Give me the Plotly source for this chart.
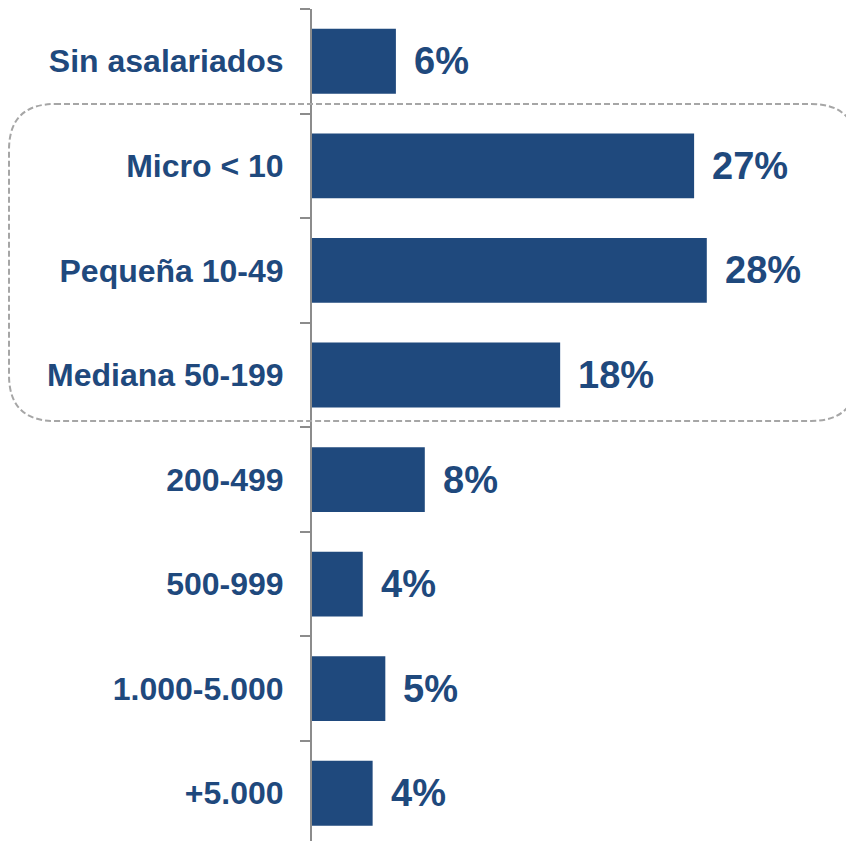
import plotly.graph_objects as go

categories = ["Sin asalariados", "Micro < 10", "Pequeña 10-49", "Mediana 50-199",
              "200-499", "500-999", "1.000-5.000", "+5.000"]
values = [5.95, 27.1, 28.0, 17.6, 8.0, 3.6, 5.2, 4.3]
value_labels = ["6%", "27%", "28%", "18%", "8%", "4%", "5%", "4%"]

BLUE = "#1F497D"
GRAY = "#8C8C8C"
OFF = 8  # page body margin
W, H = 854, 841 - OFF
ML, MR, MT, MB = 312 - OFF, 8, 9 - OFF, 0
PX_PER_PCT = 14.1

fig = go.Figure()
fig.add_trace(go.Bar(
    y=categories, x=values, orientation="h",
    marker=dict(color=BLUE, line=dict(width=0)),
    hoverinfo="skip",
))

for i, (v, t) in enumerate(zip(values, value_labels)):
    fig.add_annotation(x=v, y=i, text=t, showarrow=False, xanchor="left",
                       xshift=16, font=dict(family="Liberation Sans", size=38,
                                            color=BLUE, weight="bold"))

# dashed rounded box (screenshot pixel coords -> paper coords)
pw, ph = W - ML - MR, H - MT - MB
def px(x):
    return (x - OFF - ML) / pw
def py(y):
    return 1 - (y - OFF - MT) / ph

x0, x1, y0, y1, r = 9, 857, 104, 421, 46
path = (
    f"M {px(x0 + r)} {py(y0)} L {px(x1 - r)} {py(y0)} "
    f"Q {px(x1)} {py(y0)} {px(x1)} {py(y0 + r)} "
    f"L {px(x1)} {py(y1 - r)} "
    f"Q {px(x1)} {py(y1)} {px(x1 - r)} {py(y1)} "
    f"L {px(x0 + r)} {py(y1)} "
    f"Q {px(x0)} {py(y1)} {px(x0)} {py(y1 - r)} "
    f"L {px(x0)} {py(y0 + r)} "
    f"Q {px(x0)} {py(y0)} {px(x0 + r)} {py(y0)} Z"
)
fig.add_shape(type="path", path=path, xref="paper", yref="paper",
              line=dict(color="#A6A6A6", width=2, dash="6px,3px"), layer="above")

n_vis = ph / 104.57
fig.update_layout(
    width=W, height=H,
    margin=dict(l=ML, r=MR, t=MT, b=MB),
    plot_bgcolor="white", paper_bgcolor="white",
    bargap=0.38, showlegend=False,
    xaxis=dict(range=[0, pw / PX_PER_PCT], visible=False, fixedrange=True),
    yaxis=dict(
        type="category", categoryorder="array", categoryarray=categories,
        range=[n_vis - 0.5, -0.5],
        showline=True, linecolor=GRAY, linewidth=2,
        ticks="outside", tickson="boundaries", ticklen=10, tickwidth=2, tickcolor=GRAY,
        showgrid=False, zeroline=False,
        tickfont=dict(family="Liberation Sans", size=32, color=BLUE, weight="bold"),
        ticklabelstandoff=20,
    ),
)

fig.write_html("out.html")
